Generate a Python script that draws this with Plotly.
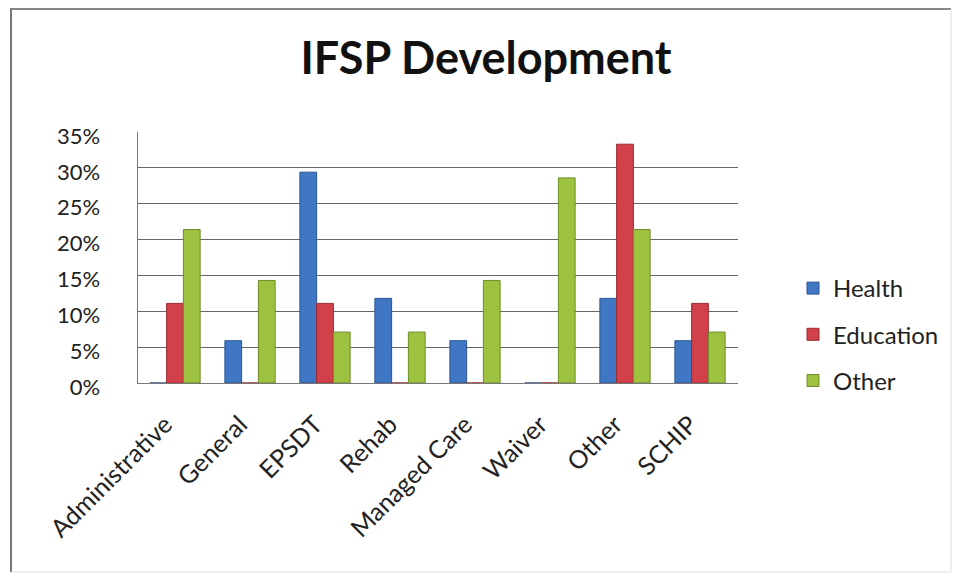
import plotly.graph_objects as go

categories = ["Administrative", "General", "EPSDT", "Rehab", "Managed Care", "Waiver", "Other", "SCHIP"]
health = [0.0, 0.059, 0.294, 0.118, 0.059, 0.0, 0.118, 0.059]
education = [0.111, 0.0, 0.111, 0.0, 0.0, 0.0, 0.333, 0.111]
other = [0.214, 0.143, 0.071, 0.071, 0.143, 0.286, 0.214, 0.071]
series_names = ["Health", "Education", "Other"]
colors = ["#3F77C4", "#D2404A", "#9DC23F"]
outline = ["#2A5590", "#9A2A33", "#6E8D28"]

# page has an 8px body margin; figure coordinates = page - 8
OFF = 8
W, H = 964 - OFF, 577 - OFF
FONT = "Lato"


def px(x):
    return (x - OFF) / W


def py(y):
    return 1 - (y - OFF) / H


fig = go.Figure()
for name, vals, c, oc in zip(series_names, [health, education, other], colors, outline):
    fig.add_trace(go.Bar(
        x=categories, y=vals, name=name, legendgroup=name,
        marker=dict(color=c, line=dict(color=oc, width=1)),
    ))

fig.update_layout(
    width=W, height=H,
    margin=dict(l=0, r=0, t=0, b=0),
    paper_bgcolor="white", plot_bgcolor="white",
    font=dict(family=FONT, color="#222222"),
    barmode="group", bargap=0.33, bargroupgap=0.0,
    title=dict(text="<b>IFSP Development</b>", x=px(486), xanchor="center",
               y=py(58), yanchor="middle", font=dict(size=45, family=FONT, color="#111111")),
    xaxis=dict(domain=[px(137.5), px(737.5)], automargin=False, tickangle=-45,
               tickfont=dict(size=25, family=FONT), showgrid=False,
               showline=True, linecolor="#777777", linewidth=1, ticks="",
               ticklabelstandoff=16, ticklabelshift=-10),
    yaxis=dict(domain=[py(383), py(132)], automargin=False, range=[0, 0.35], dtick=0.05,
               tickformat=".0%", tickfont=dict(size=22, family=FONT),
               showgrid=True, gridcolor="#666666", gridwidth=1,
               showline=True, linecolor="#777777", linewidth=1, ticks="",
               ticklabelstandoff=32, ticklabelshift=4, zeroline=False),
    legend=dict(x=px(793), y=py(266), xanchor="left", yanchor="top",
                font=dict(size=24, family=FONT), tracegroupgap=12,
                bgcolor="rgba(0,0,0,0)", itemwidth=30),
    showlegend=True,
)

# chart frame
fig.add_shape(type="line", xref="paper", yref="paper", x0=px(11), x1=px(11), y0=py(572), y1=1,
              line=dict(color="#777777", width=2))
fig.add_shape(type="line", xref="paper", yref="paper", x0=px(11), x1=px(951), y0=py(9), y1=py(9),
              line=dict(color="#888888", width=2))
fig.add_shape(type="line", xref="paper", yref="paper", x0=px(951), x1=px(951), y0=py(572), y1=py(9),
              line=dict(color="#dddddd", width=1))
fig.add_shape(type="line", xref="paper", yref="paper", x0=px(11), x1=px(951), y0=py(572), y1=py(572),
              line=dict(color="#dddddd", width=1))

fig.write_html("out.html")
